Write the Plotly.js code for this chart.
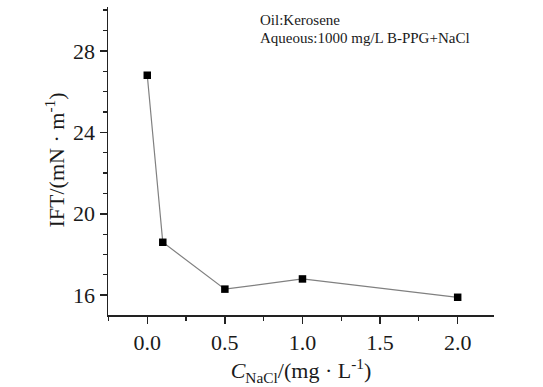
<!DOCTYPE html>
<html><head><meta charset="utf-8">
<script src="https://cdn.plot.ly/plotly-3.0.1.min.js"></script>
<style>html,body{margin:0;padding:0;background:#fff}#c{width:543px;height:387px}</style>
</head><body><div id="c"></div>
<script>
const cNaCl = [0, 0.1, 0.5, 1.0, 2.0];
const ift = [26.8, 18.6, 16.3, 16.8, 15.9];
const xTicks = [0, 0.5, 1.0, 1.5, 2.0];
const xTickText = ['0.0', '0.5', '1.0', '1.5', '2.0'];
const yTicks = [16, 20, 24, 28];
const yTickText = ['16', '20', '24', '28'];
const noteLines = ['Oil:Kerosene', 'Aqueous:1000 mg/L B-PPG+NaCl'];

const fam = 'Liberation Serif, Times New Roman, serif';
const f = (s) => ({family: fam, size: s, color: '#1a1a1a'});

const W = 386, H = 308, L = 108, T = 7;

Plotly.newPlot('c', [{
  x: cNaCl, y: ift, type: 'scatter', mode: 'lines+markers',
  line: {color: '#808080', width: 1.2},
  marker: {symbol: 'square', size: 7.5, color: '#000'}
}], {
  width: 543, height: 387,
  margin: {l: L, r: 49, t: T, b: 72},
  paper_bgcolor: '#fff', plot_bgcolor: '#fff',
  showlegend: false,
  font: f(22),
  xaxis: {
    range: [-0.253, 2.234], showgrid: false, zeroline: false,
    showline: true, linecolor: '#222', linewidth: 1.5,
    ticks: 'outside', ticklen: 7, tickwidth: 1.5, tickcolor: '#222',
    tickmode: 'array', tickvals: xTicks, ticktext: xTickText,
    tickfont: f(22),
    minor: {dtick: 0.25, tick0: 0, ticks: 'outside', ticklen: 4, tickwidth: 1.2, tickcolor: '#222', showgrid: false},
    title: {text: '<i>C</i><sub>NaCl</sub>/(mg · L<sup>-1</sup>)', font: f(22), standoff: 3}
  },
  yaxis: {
    range: [15.03, 30.15], showgrid: false, zeroline: false,
    showline: true, linecolor: '#222', linewidth: 1.5,
    ticks: 'outside', ticklen: 7, tickwidth: 1.5, tickcolor: '#222',
    tickmode: 'array', tickvals: yTicks, ticktext: yTickText,
    tickfont: f(22),
    minor: {dtick: 1, tick0: 15, ticks: 'outside', ticklen: 4, tickwidth: 1.2, tickcolor: '#222', showgrid: false},
    title: {text: ''}
  },
  annotations: [
    {
      text: 'IFT/(mN&nbsp;·&nbsp;m<sup>-1</sup>)', textangle: -90, showarrow: false,
      xref: 'paper', yref: 'paper', x: (54 - L) / W, y: 1 - (160.5 - T) / H,
      xanchor: 'center', yanchor: 'middle', font: f(22)
    }
  ].concat(noteLines.map((t, i) => ({
    text: t, xref: 'paper', yref: 'paper', x: (258 - L) / W, y: 1 - (20 + 17.5 * i - T) / H,
    xanchor: 'left', yanchor: 'middle', showarrow: false,
    font: f(15)
  })))
}, {displayModeBar: false, staticPlot: true});
</script></body></html>
